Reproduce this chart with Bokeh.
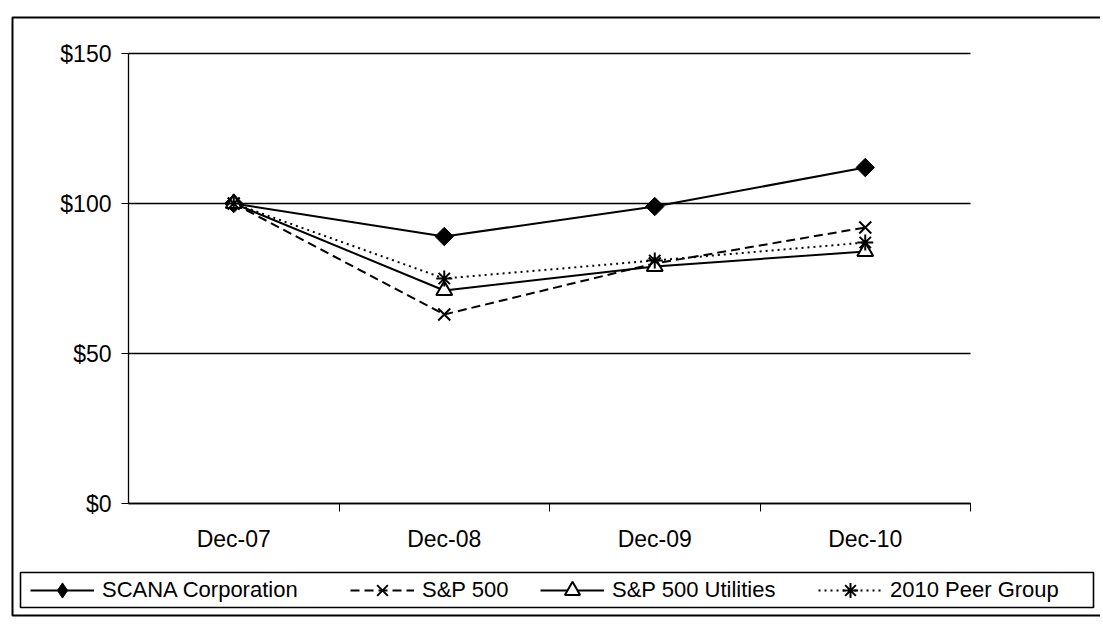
import math
from bokeh.plotting import figure
from bokeh.models import FixedTicker, BoxAnnotation, Legend, LegendItem
from bokeh.embed import file_html
from bokeh.resources import INLINE

# ---- data ----
categories = ["Dec-07", "Dec-08", "Dec-09", "Dec-10"]
series_names = ["SCANA Corporation", "S&P 500", "S&P 500 Utilities", "2010 Peer Group"]
scana = [100, 89, 99, 112]
sp500 = [100, 63, 80, 92]
utilities = [100, 71, 79, 84]
peer_group = [100, 75, 81, 87]
y_ticks = [0, 50, 100, 150]
y_tick_labels = ["$0", "$50", "$100", "$150"]

n = len(categories)
xs = [i + 0.5 for i in range(n)]
bounds = [i + 1 for i in range(n)]
FONT = "Liberation Sans"

# ---- layout (canvas pixels) ----
W, H = 1100, 624
PX_L, PX_R = 128, 970       # plot area left/right
PY_T, PY_B = 53, 503        # plot area top ($150) / bottom ($0)
ux = (PX_R - PX_L) / n
uy = (PY_B - PY_T) / 150.0


def dx(px):
    return (px - PX_L) / ux


def dy(py):
    return (PY_B - py) / uy


x_start, x_end = dx(0), dx(W)
y_start, y_end = dy(H), dy(0)

p = figure(width=W, height=H, x_range=(x_start, x_end), y_range=(y_start, y_end),
           output_backend="svg", toolbar_location=None, min_border=0)
p.outline_line_color = None
p.background_fill_color = "white"
p.border_fill_color = "white"
p.xgrid.visible = False
p.ygrid.visible = False

# horizontal gridlines across the plot area only
p.segment(x0=[0] * len(y_ticks), x1=[n] * len(y_ticks), y0=y_ticks, y1=y_ticks,
          line_color="black", line_width=1.3)

# y axis
p.yaxis.fixed_location = 0
p.yaxis.bounds = (0, 150)
p.yaxis.ticker = FixedTicker(ticks=y_ticks)
p.yaxis.major_label_overrides = {t: l for t, l in zip(y_ticks, y_tick_labels)}
p.yaxis.major_tick_out = 7
p.yaxis.major_tick_in = 0
p.yaxis.minor_tick_line_color = None
p.yaxis.axis_line_color = "black"
p.yaxis.axis_line_width = 1.3
p.yaxis.major_label_standoff = 10
p.yaxis.major_label_text_font = FONT
p.yaxis.major_label_text_font_size = "23px"
p.yaxis.major_label_text_color = "black"

# x axis
p.xaxis.fixed_location = 0
p.xaxis.bounds = (0, n)
p.xaxis.ticker = FixedTicker(ticks=xs, minor_ticks=bounds)
p.xaxis.major_label_overrides = {x: c for x, c in zip(xs, categories)}
p.xaxis.major_tick_out = 0
p.xaxis.major_tick_in = 0
p.xaxis.minor_tick_out = 8
p.xaxis.minor_tick_in = 0
p.xaxis.minor_tick_line_color = "black"
p.xaxis.axis_line_color = "black"
p.xaxis.axis_line_width = 1.3
p.xaxis.major_label_standoff = 14
p.xaxis.major_label_text_font = FONT
p.xaxis.major_label_text_font_size = "23px"
p.xaxis.major_label_text_color = "black"

# series
r1l = p.line(xs, scana, line_color="black", line_width=2)
r1k = p.scatter(xs, scana, marker="diamond", size=14, fill_color="black", line_color="black")
r1m = p.scatter(xs, scana, marker="square", angle=math.pi / 4, size=13, fill_color="black",
                line_color="black")

r2l = p.line(xs, sp500, line_color="black", line_width=2, line_dash="9 5")
r2m = p.scatter(xs, sp500, marker="x", size=17, line_color="black", line_width=2)

r3l = p.line(xs, utilities, line_color="black", line_width=2)
r3m = p.scatter(xs, utilities, marker="triangle", size=16, fill_color="white",
                line_color="black", line_width=2)

r4l = p.line(xs, peer_group, line_color="black", line_width=2, line_dash="2 4")
r4m = p.scatter(xs, peer_group, marker="asterisk", size=16, line_color="black", line_width=2)

# legend box
p.add_layout(BoxAnnotation(left=dx(20), right=dx(1093), top=dy(572), bottom=dy(607),
                           fill_alpha=0, line_color="black", line_alpha=1, line_width=1.6))

# legend entries, placed individually as in the original
entry_x = [30, 350, 540, 818]
entry_renderers = [[r1l, r1k], [r2l, r2m], [r3l, r3m], [r4l, r4m]]
GH = 38
for name, rs, x0 in zip(series_names, entry_renderers, entry_x):
    lg = Legend(items=[LegendItem(label=name, renderers=rs)])
    lg.location = (x0, H - 590 - GH // 2)
    lg.label_text_font = FONT
    lg.label_text_font_size = "22px"
    lg.label_text_color = "black"
    lg.glyph_width = 64
    lg.glyph_height = GH
    lg.label_height = GH
    lg.label_standoff = 8
    lg.padding = 0
    lg.margin = 0
    lg.border_line_color = None
    lg.background_fill_alpha = 0
    p.add_layout(lg, "center")

# outer chart border (right side runs off the page, as in the scan)
p.add_layout(BoxAnnotation(left=dx(12), right=x_end + 1, top=dy(17), bottom=dy(615),
                           fill_alpha=0, line_color="black", line_alpha=1, line_width=2))

open("out.html", "w").write(file_html(p, INLINE))
